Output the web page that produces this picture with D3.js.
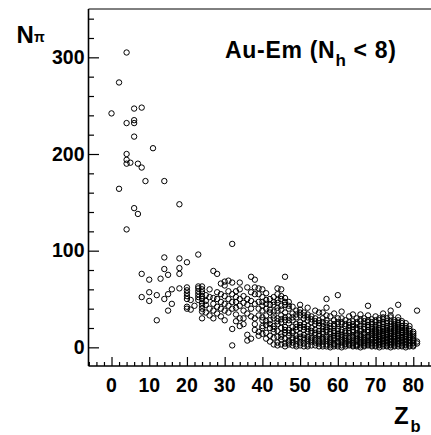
<!DOCTYPE html>
<html>
<head>
<meta charset="utf-8">
<script src="https://d3js.org/d3.v7.min.js"></script>
<style>
  html, body { margin: 0; padding: 0; background: #fff; }
  svg { display: block; }
  text { font-family: "Liberation Sans", Arial, Helvetica, sans-serif; font-weight: bold; fill: #000; }
</style>
</head>
<body>
<svg id="chart" width="431" height="435"></svg>
<script>
// ---- Data: Z_b (integer) columns and the N_pi values observed in each column ----
const zbColumns = [0, 2, 4, 5, 6, 7, 8, 9, 10, 11, 12, 13, 14, 15, 16, 18, 20, 21, 22, 23, 24,
  25, 26, 27, 28, 29, 30, 31, 32, 33, 34, 35, 36, 37, 38, 39, 40, 41, 42, 43, 44, 45, 46, 47, 48, 49,
  50, 51, 52, 53, 54, 55, 56, 57, 58, 59, 60, 61, 62, 63, 64, 65, 66, 67, 68, 69, 70,
  71, 72, 73, 74, 75, 76, 77, 78, 79, 80, 81];
const npiColumns = [
  [242],
  [274, 164],
  [305, 232, 200, 194, 190, 122],
  [191],
  [247, 235, 232, 218, 144],
  [190, 138],
  [248, 186, 76, 52],
  [172],
  [70, 57, 48],
  [206],
  [54, 28],
  [71],
  [172, 93, 81, 50],
  [75, 55, 38],
  [60, 45],
  [148, 92, 82, 76, 61],
  [88, 62, 59, 56, 53, 50, 42, 40],
  [49, 39],
  [43],
  [96, 63, 61, 58, 55, 52, 49],
  [63, 60, 57, 53, 50, 46, 43, 40, 37, 30],
  [54, 48, 44, 36],
  [60, 52, 40, 33],
  [79, 51, 45, 38, 30],
  [76, 57, 50, 42, 35],
  [66, 55, 47, 40, 32],
  [68, 64, 53, 45, 38, 28],
  [69, 58, 50, 43, 36],
  [107, 67, 55, 47, 40, 19, 2],
  [58, 52, 47, 41, 34, 27],
  [67, 60, 50, 43, 30, 22],
  [53, 46, 38, 30, 24],
  [62, 50, 44, 35, 13, 7],
  [73, 57, 48, 40, 32, 9],
  [70, 62, 55, 45, 30, 24, 18],
  [61, 55, 47, 40, 33, 16, 12],
  [60, 52, 47, 43, 38, 31, 28, 22, 20, 14],
  [56, 49, 45, 40, 33, 27, 23, 15, 9],
  [50, 44, 39, 36, 28, 24, 20, 12, 6],
  [52, 47, 44, 37, 33, 30, 22, 19, 16, 10, 3],
  [61, 55, 49, 46, 41, 38, 30, 27, 24, 17, 11, 5, 2],
  [60, 53, 50, 43, 39, 33, 29, 26, 20, 14, 11, 8, 3],
  [73, 51, 47, 44, 36, 31, 28, 21, 18, 15, 9, 4, 1],
  [47, 43, 40, 32, 28, 25, 18, 15, 12, 7, 5, 3],
  [42, 35, 31, 28, 21, 17, 15, 10, 8, 5, 2],
  [38, 34, 31, 24, 21, 18, 12, 9, 7, 3, 1],
  [44, 39, 36, 33, 26, 23, 20, 14, 11, 9, 5, 2],
  [36, 33, 30, 24, 21, 18, 13, 10, 8, 4, 1],
  [41, 34, 31, 28, 22, 19, 16, 11, 9, 7, 3, 1],
  [32, 29, 26, 20, 17, 15, 10, 8, 6, 2],
  [38, 30, 27, 24, 18, 15, 13, 9, 7, 5, 2],
  [36, 28, 25, 22, 17, 14, 12, 8, 6, 4, 1],
  [36, 30, 26, 22, 19, 16, 14, 10, 8, 6, 3, 1],
  [50, 41, 33, 28, 25, 21, 18, 16, 11, 9, 7, 3, 1],
  [32, 25, 22, 19, 16, 14, 10, 8, 6, 4, 2, 0],
  [35, 28, 24, 22, 17, 15, 12, 10, 8, 4, 3, 1],
  [54, 30, 26, 24, 19, 17, 14, 12, 10, 6, 5, 3, 1],
  [37, 30, 26, 24, 18, 16, 13, 11, 9, 7, 5, 2, 0],
  [28, 24, 22, 17, 15, 12, 10, 8, 6, 4, 3, 1],
  [32, 26, 23, 20, 17, 15, 11, 9, 7, 5, 3, 2],
  [34, 27, 24, 21, 18, 16, 12, 10, 8, 5, 4, 2, 1],
  [30, 26, 24, 20, 18, 14, 12, 10, 8, 6, 3, 2, 1],
  [34, 29, 27, 22, 19, 17, 13, 11, 9, 7, 5, 4, 2, 0],
  [30, 27, 24, 21, 19, 15, 13, 11, 9, 7, 5, 4, 2, 1],
  [43, 33, 28, 26, 23, 21, 18, 16, 12, 10, 8, 6, 5, 3, 2],
  [29, 26, 24, 21, 19, 17, 15, 13, 11, 9, 8, 5, 4, 2, 1],
  [32, 28, 26, 23, 21, 19, 17, 15, 13, 11, 10, 8, 7, 5, 4, 2, 1],
  [30, 28, 25, 23, 20, 18, 16, 14, 12, 11, 9, 8, 6, 5, 3, 2, 0],
  [35, 31, 29, 26, 24, 21, 19, 17, 15, 13, 12, 10, 9, 7, 6, 4, 3, 1],
  [30, 27, 25, 22, 20, 18, 16, 14, 13, 11, 10, 8, 7, 5, 4, 2, 1],
  [38, 33, 31, 27, 24, 21, 19, 17, 15, 14, 12, 11, 9, 8, 6, 5, 3, 2, 0],
  [28, 26, 24, 22, 20, 18, 16, 14, 12, 11, 9, 8, 6, 5, 4, 2, 1],
  [44, 31, 28, 25, 23, 21, 19, 17, 15, 13, 12, 10, 9, 7, 6, 4, 3, 1],
  [27, 25, 22, 20, 18, 16, 15, 13, 11, 10, 8, 7, 5, 4, 2, 1],
  [25, 22, 20, 18, 16, 14, 12, 11, 9, 8, 6, 5, 3, 2, 0],
  [22, 19, 17, 15, 13, 11, 10, 8, 7, 5, 4, 2, 1],
  [16, 14, 12, 10, 8, 7, 5, 4, 2, 1],
  [38, 6, 4]
];
const xMajorTicks = [0, 10, 20, 30, 40, 50, 60, 70, 80];
const yMajorTicks = [0, 100, 200, 300];
const xDomain = [-6.1, 84.7];
const yDomain = [-19.3, 350];

// ---- Build point table ----
const points = [];
zbColumns.forEach((z, i) => npiColumns[i].forEach(n => points.push({ z, n })));

const svg = d3.select("#chart");
const L = 88.5, R = 431, T = 9, B = 366;

const x = d3.scaleLinear().domain(xDomain).range([L, R]);
const y = d3.scaleLinear().domain(yDomain).range([B, T]);

// frame top line
svg.append("line").attr("x1", L).attr("x2", R).attr("y1", T).attr("y2", T)
  .attr("stroke", "#000").attr("stroke-width", 1);

// points
svg.append("g").selectAll("circle").data(points).join("circle")
  .attr("cx", d => x(d.z)).attr("cy", d => y(d.n)).attr("r", 2.7)
  .attr("fill", "none").attr("stroke", "#000").attr("stroke-width", 1);

// Y axis (ticks pointing inward)
const yMinor = d3.range(-20, 350, 20).filter(v => v >= yDomain[0] && !yMajorTicks.includes(v));
const yAxisMajor = d3.axisRight(y).tickValues(yMajorTicks).tickSize(10.5).tickFormat("");
const yAxisMinor = d3.axisRight(y).tickValues(yMinor).tickSize(5.5).tickFormat("");
[yAxisMinor, yAxisMajor].forEach(ax => {
  const g = svg.append("g").attr("transform", `translate(${L},0)`).call(ax);
  g.select(".domain").remove();
  g.selectAll("line").attr("stroke", "#000").attr("stroke-width", 1.2);
});
svg.append("line").attr("x1", L).attr("x2", L).attr("y1", T).attr("y2", B)
  .attr("stroke", "#000").attr("stroke-width", 1.6);
svg.append("g").selectAll("text").data(yMajorTicks).join("text")
  .attr("x", 84.5).attr("y", d => y(d) + 6.8)
  .attr("text-anchor", "end").attr("font-size", 19.5).text(d => d);

// X axis (ticks pointing inward)
const xMinor = d3.range(-6, 86, 2).filter(v => v >= xDomain[0] && v <= xDomain[1] && !xMajorTicks.includes(v));
const xAxisMajor = d3.axisTop(x).tickValues(xMajorTicks).tickSize(9).tickFormat("");
const xAxisMinor = d3.axisTop(x).tickValues(xMinor).tickSize(4).tickFormat("");
[xAxisMinor, xAxisMajor].forEach(ax => {
  const g = svg.append("g").attr("transform", `translate(0,${B})`).call(ax);
  g.select(".domain").remove();
  g.selectAll("line").attr("stroke", "#000").attr("stroke-width", 1.2);
});
svg.append("line").attr("x1", L).attr("x2", R).attr("y1", B).attr("y2", B)
  .attr("stroke", "#000").attr("stroke-width", 1.6);
svg.append("g").selectAll("text").data(xMajorTicks).join("text")
  .attr("x", d => x(d)).attr("y", 391.8)
  .attr("text-anchor", "middle").attr("font-size", 19.5).text(d => d);

// Axis titles
svg.append("text").attr("x", 16.5).attr("y", 43.2).attr("font-size", 24).text("N");
svg.append("text").attr("x", 34).attr("y", 41.8).attr("font-size", 14).text("π");

svg.append("text").attr("x", 394).attr("y", 423.5).attr("font-size", 24).text("Z");
svg.append("text").attr("x", 410.5).attr("y", 432).attr("font-size", 16.5).text("b");

// Title
const tt = svg.append("text").attr("x", 225).attr("y", 58.3)
  .attr("font-size", 23).attr("letter-spacing", 0.7);
tt.append("tspan").text("Au-Em (N");
tt.append("tspan").attr("font-size", 17).attr("dy", 7.5).text("h");
tt.append("tspan").attr("dy", -7.5).text(" < 8)");
</script>
</body>
</html>
